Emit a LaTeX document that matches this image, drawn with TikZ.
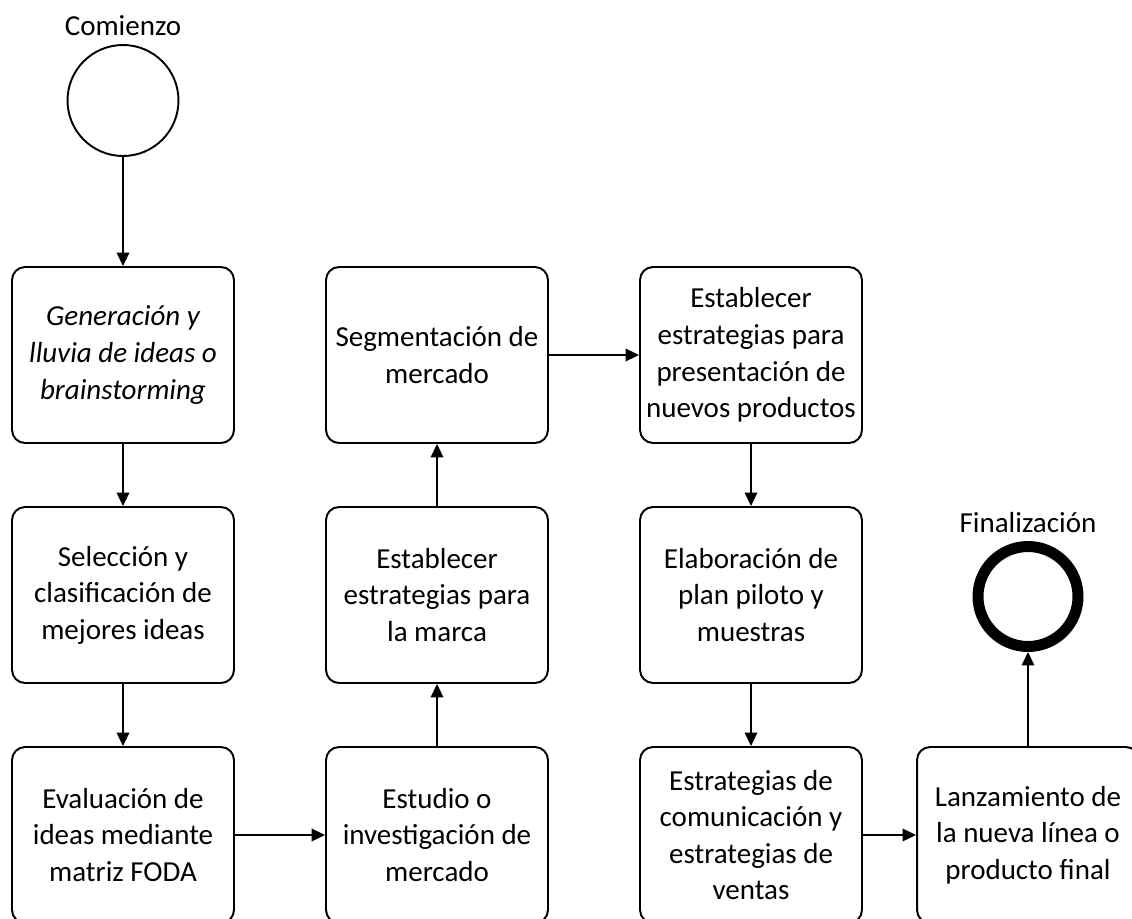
\documentclass[tikz,border=0pt]{standalone}
\usepackage{fontspec}
\setmainfont{Carlito}
\usetikzlibrary{arrows.meta}
\begin{document}
\begin{tikzpicture}[x=0.02cm,y=-0.02cm,
 box/.style={draw, line width=1.1pt, rounded corners=0.26cm, minimum width=4.44cm, minimum height=3.52cm, align=center, font=\fontsize{16.5}{20.8}\selectfont, inner sep=0pt},
 arr/.style={line width=1.1pt, -{Triangle[length=0.27cm,width=0.25cm]}},
 lbl/.style={font=\fontsize{16.5}{20}\selectfont, inner sep=0pt}]
\useasboundingbox (0,0) rectangle (1132,919);
% start / end
\node[draw, circle, line width=1.1pt, minimum size=2.22cm, inner sep=0pt] (start) at (123,100.5) {};
\node[lbl, anchor=base] (startlbl) at (123,36) {Comienzo};
\node[draw, circle, line width=0.22cm, minimum size=2.0cm, inner sep=0pt] (end) at (1028,596.5) {};
\node[lbl, anchor=base] (endlbl) at (1028,532) {Finalización};
% column 1
\node[box] (a1) at (123,355) {\itshape Generación y\\\itshape lluvia de ideas o\\\itshape brainstorming};
\node[box] (a2) at (123,595) {Selección y\\clasificación de\\mejores ideas};
\node[box] (a3) at (123,835) {Evaluación de\\ideas mediante\\matriz FODA};
% column 2
\node[box] (b1) at (437,355) {Segmentación de\\mercado};
\node[box] (b2) at (437,595) {Establecer\\estrategias para\\la marca};
\node[box] (b3) at (437,835) {Estudio o\\investigación de\\mercado};
% column 3
\node[box] (c1) at (751,355) {Establecer\\estrategias para\\presentación de\\nuevos productos};
\node[box] (c2) at (751,595) {Elaboración de\\plan piloto y\\muestras};
\node[box] (c3) at (751,835) {Estrategias de\\comunicación y\\estrategias de\\ventas};
% column 4
\node[box] (d3) at (1028,835) {Lanzamiento de\\la nueva línea o\\producto final};
% connectors
\draw[arr] (start) -- (a1);
\draw[arr] (a1) -- (a2);
\draw[arr] (a2) -- (a3);
\draw[arr] (a3) -- (b3);
\draw[arr] (b3) -- (b2);
\draw[arr] (b2) -- (b1);
\draw[arr] (b1) -- (c1);
\draw[arr] (c1) -- (c2);
\draw[arr] (c2) -- (c3);
\draw[arr] (c3) -- (d3);
\draw[arr] (d3) -- (end);
\end{tikzpicture}
\end{document}
